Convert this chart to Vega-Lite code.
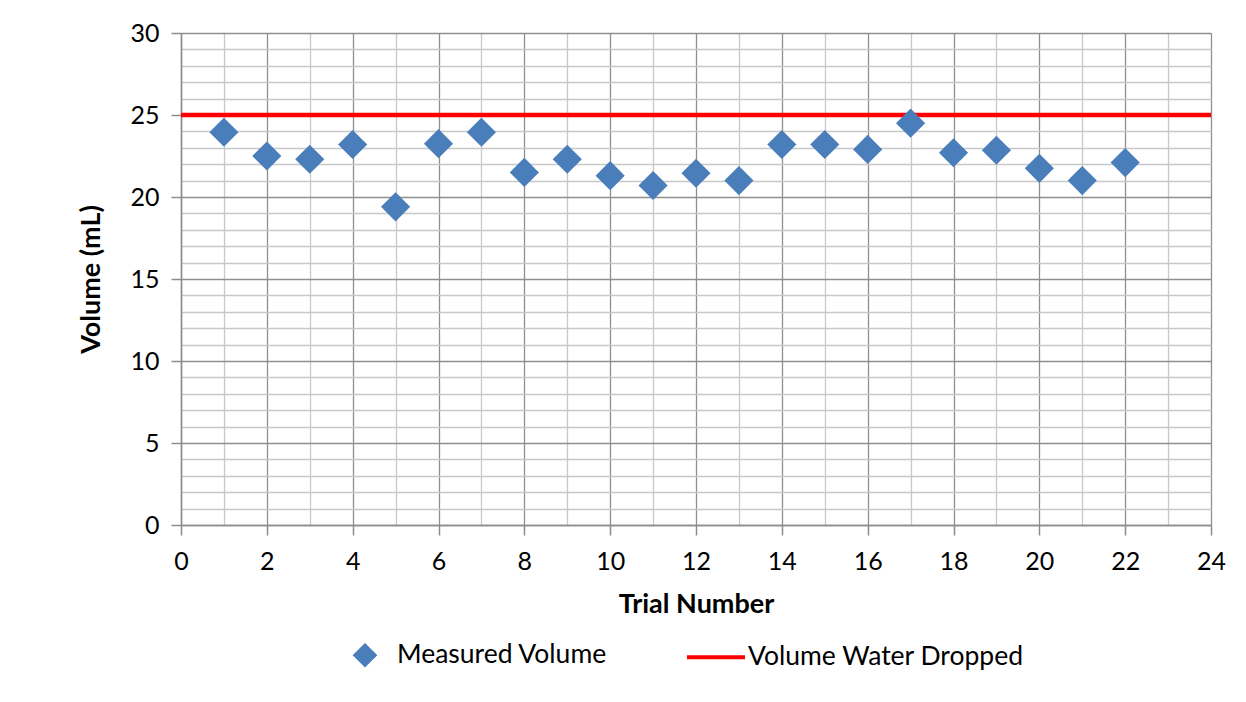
{
  "$schema": "https://vega.github.io/schema/vega-lite/v6.json",
  "width": 1030,
  "height": 492,
  "autosize": {"type": "none"},
  "padding": {"left": 181, "top": 33, "right": 35, "bottom": 177},
  "background": "white",
  "config": {
    "view": {"stroke": null},
    "font": "Lato",
    "axis": {
      "labelFont": "Lato",
      "labelFontSize": 25,
      "labelColor": "#000000",
      "titleFont": "Lato",
      "titleFontSize": 27,
      "titleFontWeight": "bold",
      "titleColor": "#000000",
      "domainColor": "#8c8c8c",
      "domainWidth": 1.5,
      "gridWidth": 1.3,
      "tickWidth": 1.5,
      "tickSize": 10
    }
  },
  "encoding": {
    "y": {
      "field": "volume",
      "type": "quantitative",
      "scale": {"domain": [0, 30], "nice": false},
      "axis": {
        "title": "Volume (mL)",
        "values": [0,1,2,3,4,5,6,7,8,9,10,11,12,13,14,15,16,17,18,19,20,21,22,23,24,25,26,27,28,29,30],
        "labelExpr": "datum.value % 5 === 0 ? datum.label : ''",
        "gridColor": {"condition": {"test": "datum.value % 5 === 0", "value": "#8f8f8f"}, "value": "#c8c8c8"},
        "tickColor": {"condition": {"test": "datum.value % 5 === 0", "value": "#8c8c8c"}, "value": "rgba(0,0,0,0)"},
        "labelPadding": 12,
        "titlePadding": 24
      }
    },
    "color": {
      "field": "series",
      "type": "nominal",
      "scale": {"domain": ["Measured Volume", "Volume Water Dropped"], "range": ["#4a7ebb", "#ff0000"]},
      "legend": {
        "orient": "none",
        "legendX": 153,
        "legendY": 591,
        "direction": "horizontal",
        "title": null,
        "padding": 0,
        "labelFont": "Lato",
        "labelFontSize": 26.5,
        "labelColor": "#000000",
        "labelOffset": 1,
        "labelLimit": 500,
        "columnPadding": 71,
        "symbolSize": 256,
        "encode": {
          "symbols": {
            "update": {
              "shape": {"signal": "datum.value === 'Measured Volume' ? 'diamond' : 'stroke'"},
              "size": {"signal": "datum.value === 'Measured Volume' ? 360 : 3364"},
              "fill": {"signal": "datum.value === 'Measured Volume' ? '#4a7ebb' : 'rgba(0,0,0,0)'"},
              "stroke": {"signal": "datum.value === 'Measured Volume' ? 'rgba(0,0,0,0)' : '#ff0000'"},
              "strokeWidth": {"value": 4},
              "opacity": {"value": 1}
            }
          }
        }
      }
    }
  },
  "layer": [
    {
      "data": {"values": [{"series": "Volume Water Dropped", "volume": 25}]},
      "mark": {"type": "rule", "strokeWidth": 4.5},
      "encoding": {}
    },
    {
      "data": {
        "values": [
          {"trial": 1, "volume": 23.95, "series": "Measured Volume"},
          {"trial": 2, "volume": 22.5, "series": "Measured Volume"},
          {"trial": 3, "volume": 22.3, "series": "Measured Volume"},
          {"trial": 4, "volume": 23.2, "series": "Measured Volume"},
          {"trial": 5, "volume": 19.4, "series": "Measured Volume"},
          {"trial": 6, "volume": 23.25, "series": "Measured Volume"},
          {"trial": 7, "volume": 23.95, "series": "Measured Volume"},
          {"trial": 8, "volume": 21.5, "series": "Measured Volume"},
          {"trial": 9, "volume": 22.3, "series": "Measured Volume"},
          {"trial": 10, "volume": 21.3, "series": "Measured Volume"},
          {"trial": 11, "volume": 20.7, "series": "Measured Volume"},
          {"trial": 12, "volume": 21.45, "series": "Measured Volume"},
          {"trial": 13, "volume": 21.0, "series": "Measured Volume"},
          {"trial": 14, "volume": 23.2, "series": "Measured Volume"},
          {"trial": 15, "volume": 23.2, "series": "Measured Volume"},
          {"trial": 16, "volume": 22.9, "series": "Measured Volume"},
          {"trial": 17, "volume": 24.5, "series": "Measured Volume"},
          {"trial": 18, "volume": 22.7, "series": "Measured Volume"},
          {"trial": 19, "volume": 22.85, "series": "Measured Volume"},
          {"trial": 20, "volume": 21.75, "series": "Measured Volume"},
          {"trial": 21, "volume": 21.0, "series": "Measured Volume"},
          {"trial": 22, "volume": 22.1, "series": "Measured Volume"}
        ]
      },
      "mark": {"type": "point", "shape": "diamond", "filled": true, "size": 850, "opacity": 1},
      "encoding": {
        "x": {
          "field": "trial",
          "type": "quantitative",
          "scale": {"domain": [0, 24], "nice": false},
          "axis": {
            "title": "Trial Number",
            "values": [0,1,2,3,4,5,6,7,8,9,10,11,12,13,14,15,16,17,18,19,20,21,22,23,24],
            "labelExpr": "datum.value % 2 === 0 ? datum.label : ''",
            "gridColor": {"condition": {"test": "datum.value % 2 === 0", "value": "#8f8f8f"}, "value": "#c8c8c8"},
            "tickColor": {"condition": {"test": "datum.value % 2 === 0", "value": "#8c8c8c"}, "value": "rgba(0,0,0,0)"},
            "labelPadding": 14,
            "labelFlush": false,
            "titlePadding": 17
          }
        }
      }
    }
  ]
}
